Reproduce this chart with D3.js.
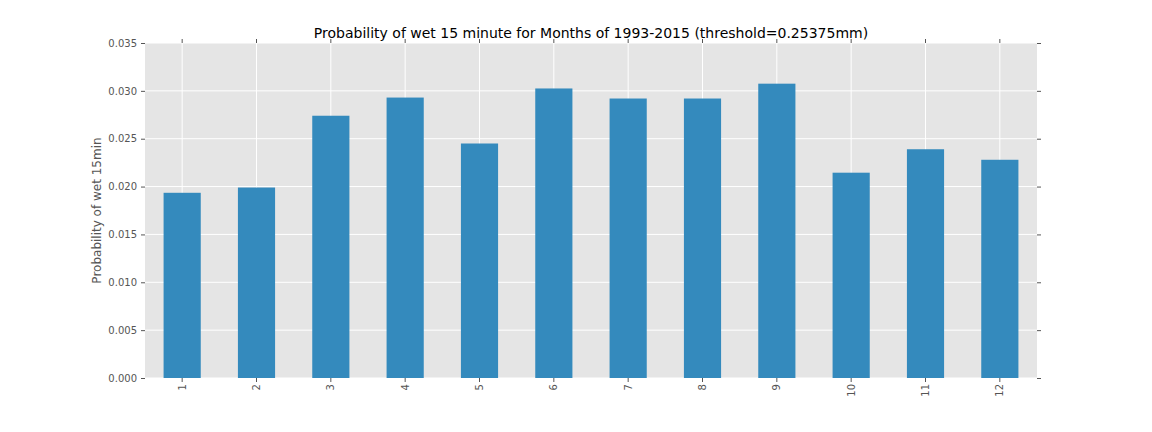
<!DOCTYPE html>
<html>
<head>
<meta charset="utf-8">
<script src="https://cdn.jsdelivr.net/npm/d3@7"></script>
<style>
  body { margin: 0; background: #fff; }
  text { font-family: "DejaVu Sans", sans-serif; }
</style>
</head>
<body>
<svg id="chart" width="1152" height="432"></svg>
<script>
// months and probability of a wet 15 minute interval
const months = ["1","2","3","4","5","6","7","8","9","10","11","12"];
const probs = [0.01935, 0.01990, 0.02740, 0.02930, 0.02450, 0.03025,
               0.02920, 0.02920, 0.03075, 0.02145, 0.02390, 0.02280];
const yTicks = [0, 0.005, 0.010, 0.015, 0.020, 0.025, 0.030, 0.035];

const svg = d3.select("#chart");
const m = {left: 145, right: 1037, top: 43, bottom: 378};

const x = d3.scaleBand().domain(months).range([m.left, m.right]).paddingInner(0.5).paddingOuter(0.25);
const y = d3.scaleLinear().domain([0, 0.035]).range([m.bottom, m.top]);

svg.append("rect").attr("x", m.left).attr("y", m.top)
  .attr("width", m.right - m.left).attr("height", m.bottom - m.top).attr("fill", "#e5e5e5");

// grid
const g = svg.append("g");
g.selectAll(".hg").data(yTicks).join("line")
  .attr("x1", m.left).attr("x2", m.right)
  .attr("y1", d => y(d)).attr("y2", d => y(d))
  .attr("stroke", "#fff").attr("stroke-width", 1);
g.selectAll(".vg").data(months).join("line")
  .attr("x1", d => x(d) + x.bandwidth() / 2).attr("x2", d => x(d) + x.bandwidth() / 2)
  .attr("y1", m.top).attr("y2", m.bottom)
  .attr("stroke", "#fff").attr("stroke-width", 1);

// bars
svg.selectAll(".bar").data(months).join("rect")
  .attr("x", d => x(d)).attr("width", x.bandwidth())
  .attr("y", (d, i) => y(probs[i])).attr("height", (d, i) => y(0) - y(probs[i]))
  .attr("fill", "#348abd");

// axes
const tickStyle = sel => {
  sel.select(".domain").remove();
  sel.selectAll(".tick line").attr("stroke", "#555");
  sel.selectAll("text").attr("fill", "#555").style("font-size", "10px");
};
svg.append("g").attr("transform", `translate(${m.left},0)`)
  .call(d3.axisLeft(y).tickValues(yTicks).tickFormat(d3.format(".3f")).tickSize(4).tickPadding(4))
  .call(tickStyle);
svg.append("g").attr("transform", `translate(${m.right},0)`)
  .call(d3.axisRight(y).tickValues(yTicks).tickFormat("").tickSize(4))
  .call(tickStyle);
svg.append("g").attr("transform", `translate(0,${m.top})`)
  .call(d3.axisTop(x).tickFormat("").tickSize(4))
  .call(tickStyle);
const xa = svg.append("g").attr("transform", `translate(0,${m.bottom})`)
  .call(d3.axisBottom(x).tickSize(4))
  .call(tickStyle);
xa.selectAll("text").attr("transform", "rotate(-90)")
  .attr("text-anchor", "end").attr("x", -6).attr("y", 0).attr("dy", "0.35em");

svg.append("text").attr("x", (m.left + m.right) / 2).attr("y", 38)
  .attr("text-anchor", "middle").style("font-size", "14px").attr("fill", "#000")
  .text("Probability of wet 15 minute for Months of 1993-2015 (threshold=0.25375mm)");
svg.append("text").attr("transform", `translate(101,${(m.top + m.bottom) / 2}) rotate(-90)`)
  .attr("text-anchor", "middle").style("font-size", "12px").attr("fill", "#555")
  .text("Probability of wet 15min");
</script>
</body>
</html>
